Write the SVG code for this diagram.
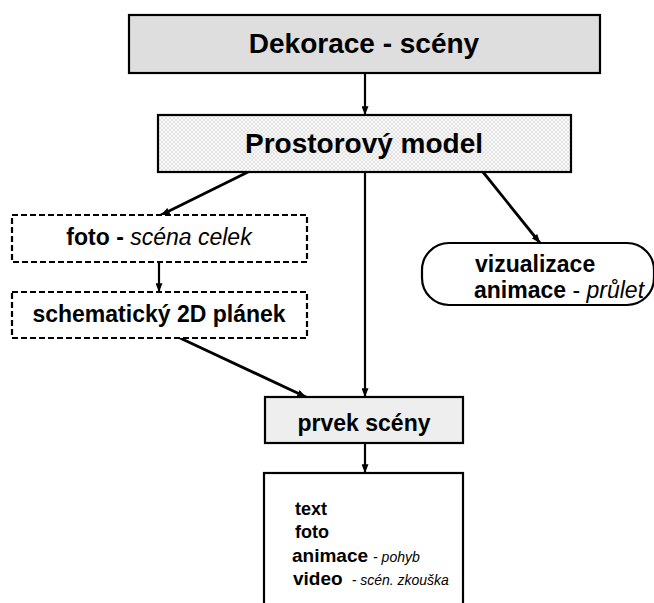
<svg xmlns="http://www.w3.org/2000/svg" width="654" height="603" viewBox="0 0 654 603">
<style>
.box{stroke:#000;stroke-width:2.2}
.dash{fill:#fff;stroke:#000;stroke-width:2.2;stroke-dasharray:6 3}
.t{font-family:"Liberation Sans",Arial,sans-serif;fill:#000}
.b{font-weight:bold}
.i{font-style:italic;font-weight:normal}
.c{text-anchor:middle}
.conn line{stroke:#000;stroke-width:2.2}
.conn .d{stroke-width:2.8}
</style>
<defs>
<pattern id="hatch" width="4" height="4" patternUnits="userSpaceOnUse">
<rect width="4" height="4" fill="#fafafa"/>
<path d="M0,0 L4,4 M4,0 L0,4" stroke="#d4d4d4" stroke-width="0.6"/>
</pattern>
<marker id="ah" viewBox="0 0 10 8" refX="10" refY="4" markerWidth="9" markerHeight="7" markerUnits="userSpaceOnUse" orient="auto">
<path d="M0,0 L10,4 L0,8 z" fill="#000"/>
</marker>
</defs>
<rect width="654" height="603" fill="#fff"/>
<g class="conn">
<line x1="365" y1="73" x2="365" y2="115" marker-end="url(#ah)"/>
<line class="d" x1="248" y1="172" x2="161" y2="215" marker-end="url(#ah)"/>
<line x1="159" y1="262" x2="159" y2="292" marker-end="url(#ah)"/>
<line class="d" x1="483" y1="172" x2="540" y2="243" marker-end="url(#ah)"/>
<line x1="365" y1="172" x2="365" y2="397" marker-end="url(#ah)"/>
<line class="d" x1="180" y1="338" x2="306" y2="397" marker-end="url(#ah)"/>
<line x1="365" y1="443" x2="365" y2="473" marker-end="url(#ah)"/>
</g>
<g id="dekorace">
<rect class="box" x="129" y="15" width="471" height="58" fill="#dedede"/>
<text class="t b c" x="364" y="53" font-size="28">Dekorace - scény</text>
</g>
<g id="model">
<rect class="box" x="158" y="115" width="413" height="57" fill="url(#hatch)"/>
<text class="t b c" x="364" y="153" font-size="28">Prostorový model</text>
</g>
<g id="foto">
<rect class="dash" x="12" y="215" width="295" height="47"/>
<text class="t c" x="159" y="245" font-size="23"><tspan class="b">foto - </tspan><tspan class="i">scéna celek</tspan></text>
</g>
<g id="planek">
<rect class="dash" x="12" y="292" width="295" height="46"/>
<text class="t b c" x="159" y="322" font-size="23">schematický 2D plánek</text>
</g>
<g id="vizualizace">
<rect class="box" x="422" y="243" width="232" height="62" rx="27" ry="27" fill="#fff"/>
<text class="t b" x="475" y="272" font-size="23">vizualizace</text>
<text class="t" x="474" y="298" font-size="23"><tspan class="b">animace</tspan><tspan> - </tspan><tspan class="i">průlet</tspan></text>
</g>
<g id="prvek">
<rect class="box" x="265" y="397" width="198" height="46" fill="#eeeeee"/>
<text class="t b c" x="364" y="431" font-size="23">prvek scény</text>
</g>
<g id="seznam">
<rect class="box" x="264" y="473" width="199" height="150" fill="#fff"/>
<text class="t b" x="295" y="515" font-size="18">text</text>
<text class="t b" x="295" y="538" font-size="18">foto</text>
<text class="t" x="292" y="562"><tspan class="b" font-size="19">animace</tspan><tspan class="i" font-size="14" dx="5">- pohyb</tspan></text>
<text class="t" x="293" y="585"><tspan class="b" font-size="19">video</tspan><tspan class="i" font-size="14" dx="9">- scén. zkouška</tspan></text>
</g>
</svg>
